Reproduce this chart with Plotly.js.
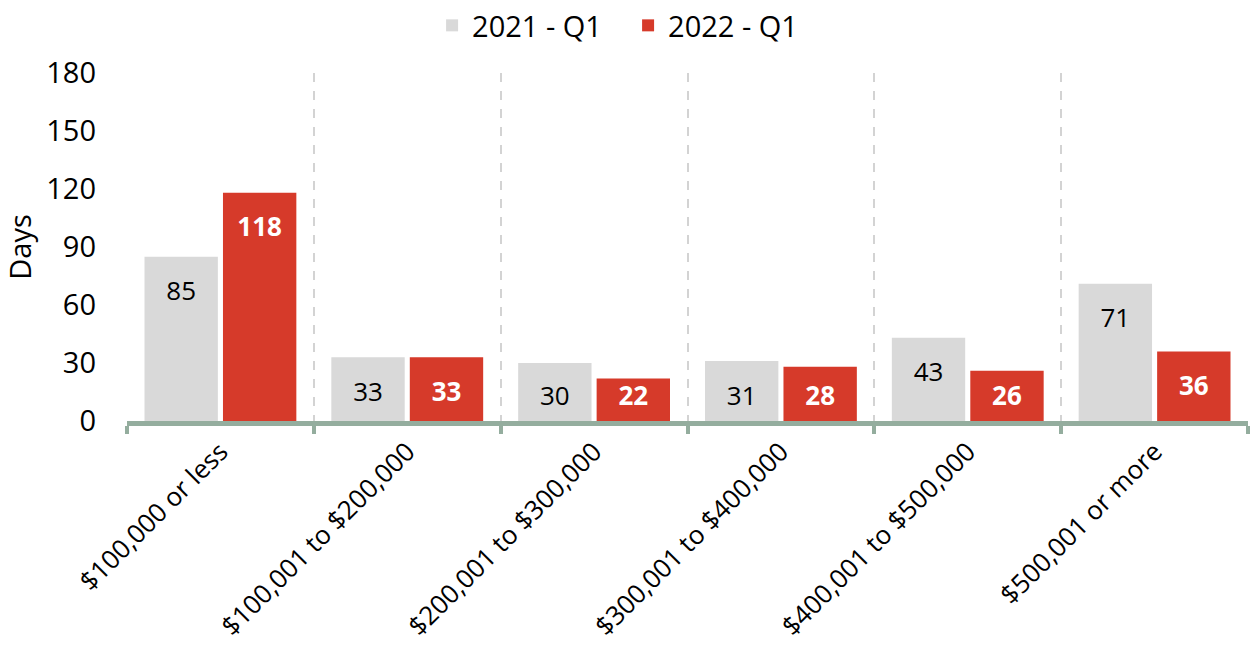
<!DOCTYPE html>
<html>
<head>
<meta charset="utf-8">
<script src="https://cdn.plot.ly/plotly-3.0.1.min.js"></script>
<style>html,body{margin:0;padding:0;background:#fff;}#chart{width:1256px;height:648px;}</style>
</head>
<body>
<div id="chart"></div>
<script>
const categories = ["$100,000 or less", "$100,001 to $200,000", "$200,001 to $300,000", "$300,001 to $400,000", "$400,001 to $500,000", "$500,001 or more"];
const seriesNames = ["2021 - Q1", "2022 - Q1"];
const values2021 = [85, 33, 30, 31, 43, 71];
const values2022 = [118, 33, 22, 28, 26, 36];
const yTicks = [0, 30, 60, 90, 120, 150, 180];

const GRAY = "#d9d9d9", RED = "#d63a2a", AXIS = "#94ad9e", FONT = "Open Sans, sans-serif";

// label anchor: Excel-like "inside end" label sitting a little below the bar top
function labelAnchor(v) { return Math.max(v - 6.5, 24.5); }

function barTrace(name, vals, color, group) {
  return {
    type: "bar", name: name, x: categories, y: vals,
    marker: {color: color}, offsetgroup: group, hoverinfo: "x+y+name"
  };
}
function labelTrace(vals, group, fontColor, weight) {
  return {
    type: "bar", x: categories, y: vals.map(labelAnchor), showlegend: false,
    offsetgroup: group, marker: {color: "rgba(0,0,0,0)"}, hoverinfo: "skip",
    text: vals.map(String), textposition: "inside", insidetextanchor: "end",
    constraintext: "none", cliponaxis: false,
    textfont: {family: FONT, size: 26, color: fontColor, weight: weight}
  };
}

const data = [
  barTrace(seriesNames[0], values2021, GRAY, "a"),
  barTrace(seriesNames[1], values2022, RED, "b"),
  labelTrace(values2021, "a", "#000000", 400),
  labelTrace(values2022, "b", "#ffffff", 700)
];

const layout = {
  width: 1256, height: 648,
  margin: {l: 127, r: 8, t: 73, b: 227},
  paper_bgcolor: "#ffffff", plot_bgcolor: "#ffffff",
  font: {family: FONT, color: "#000000", size: 26},
  barmode: "group", bargap: 0.16, bargroupgap: 0.065,
  showlegend: true,
  legend: {orientation: "h", x: 0.447, xref: "paper", xanchor: "center", y: 1.0, yref: "container", yanchor: "top",
           font: {family: FONT, size: 29, color: "#000"}, traceorder: "normal", entrywidth: 151},
  xaxis: {
    type: "category", tickson: "boundaries", ticks: "outside", ticklen: 8, tickwidth: 4, tickcolor: AXIS,
    showline: true, linecolor: AXIS, linewidth: 5,
    showgrid: true, gridcolor: "#d3d3d3", gridwidth: 2, griddash: "dash",
    tickangle: -45, tickfont: {family: FONT, size: 26, color: "#000"}, zeroline: false
  },
  yaxis: {
    range: [0, 180], tickvals: yTicks, ticktext: yTicks.map(String), showgrid: false, zeroline: false,
    showline: false, ticks: "", ticklabelstandoff: 30,
    tickfont: {family: FONT, size: 29, color: "#000"},
    title: {text: "Days", font: {family: FONT, size: 29, color: "#000"}, standoff: 14}
  }
};

Plotly.newPlot("chart", data, layout, {displayModeBar: false, staticPlot: true});
</script>
</body>
</html>
